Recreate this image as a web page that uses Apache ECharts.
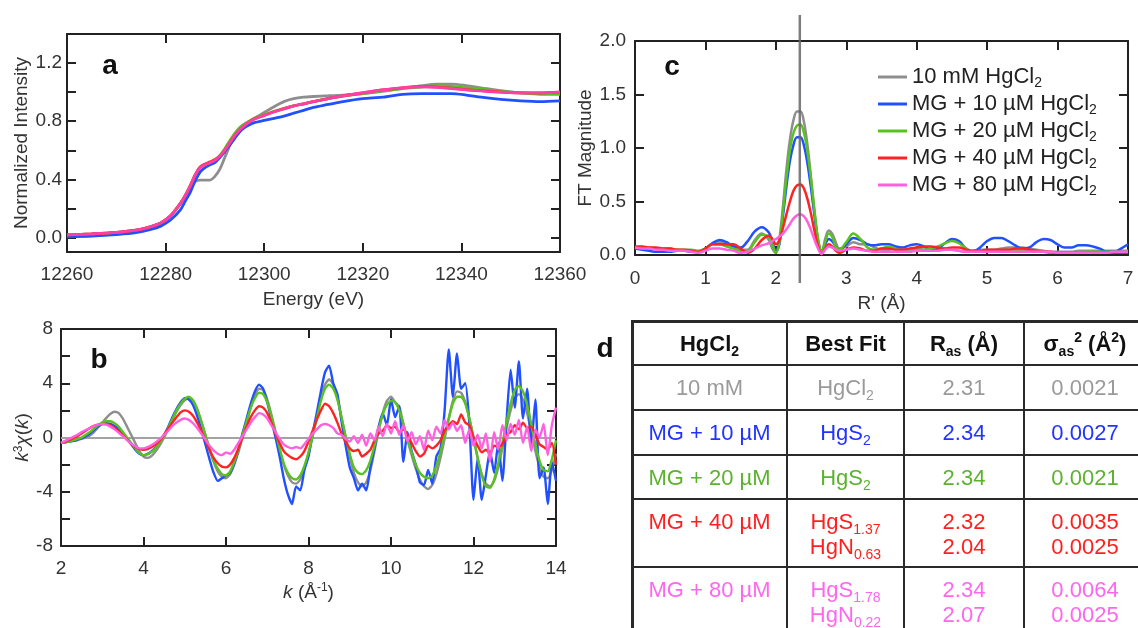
<!DOCTYPE html>
<html>
<head>
<meta charset="utf-8">
<script src="https://cdn.jsdelivr.net/npm/echarts@6.0.0/dist/echarts.min.js"></script>
<style>
html,body{margin:0;padding:0;background:#fff;width:1138px;height:628px;overflow:hidden;}
#chart{position:absolute;left:0;top:0;width:1138px;height:628px;}
#tbl{position:absolute;left:0;top:0;width:1138px;height:628px;pointer-events:none;font-family:'Liberation Sans',Arial,Helvetica,sans-serif;font-size:22px;}
.ln{position:absolute;background:#2a2a2a;}
.cell{position:absolute;display:flex;flex-direction:column;align-items:center;line-height:25px;white-space:nowrap;}
.cell.mid{justify-content:center;}
.cell.top{justify-content:flex-start;padding-top:10px;box-sizing:border-box;}
.cell.head{font-weight:bold;color:#111;}
sub{font-size:14px;line-height:0;vertical-align:-5px;}
sup{font-size:14px;line-height:0;vertical-align:9px;}
</style>
</head>
<body>
<div id="chart"></div>
<div id="tbl"></div>
<script>
// ---------------- Panel a : XANES ----------------
const A_ENERGY = [12260,12265,12270,12274,12277,12279,12281,12283,12284,12285,12286,12287,12288,12289,12290,12291,12292,12293,12294,12295,12296,12297,12298,12300,12302,12304,12306,12308,12310,12313,12316,12320,12324,12328,12332,12335,12338,12341,12344,12348,12352,12356,12360];
const A_GRAY  = [0.015,0.022,0.032,0.048,0.072,0.095,0.145,0.23,0.285,0.34,0.385,0.395,0.395,0.395,0.42,0.47,0.55,0.63,0.70,0.75,0.78,0.80,0.82,0.86,0.90,0.935,0.955,0.965,0.97,0.975,0.98,0.99,1.005,1.025,1.045,1.055,1.055,1.045,1.03,1.01,0.995,0.985,0.985];
const A_BLUE  = [0.005,0.01,0.02,0.033,0.055,0.078,0.12,0.19,0.25,0.31,0.39,0.45,0.48,0.50,0.515,0.55,0.59,0.635,0.68,0.725,0.755,0.775,0.79,0.805,0.82,0.835,0.855,0.875,0.895,0.915,0.935,0.955,0.965,0.985,0.99,0.99,0.99,0.98,0.965,0.95,0.94,0.935,0.94];
const A_GREEN = [0.018,0.025,0.035,0.05,0.075,0.10,0.15,0.235,0.29,0.355,0.43,0.48,0.50,0.515,0.535,0.565,0.61,0.665,0.715,0.755,0.78,0.80,0.82,0.845,0.868,0.888,0.905,0.92,0.935,0.955,0.972,0.99,1.01,1.025,1.035,1.045,1.04,1.03,1.02,1.005,0.995,0.99,0.99];
const A_RED   = [0.018,0.025,0.035,0.05,0.075,0.10,0.15,0.235,0.29,0.355,0.43,0.485,0.505,0.52,0.535,0.56,0.60,0.65,0.70,0.74,0.77,0.795,0.815,0.84,0.865,0.885,0.905,0.92,0.935,0.955,0.975,0.995,1.015,1.03,1.04,1.035,1.027,1.017,1.01,1.0,0.995,0.995,1.0];
const A_PINK  = [0.018,0.025,0.035,0.05,0.075,0.10,0.15,0.235,0.29,0.355,0.43,0.48,0.50,0.515,0.53,0.56,0.60,0.65,0.70,0.74,0.77,0.795,0.815,0.84,0.865,0.885,0.905,0.92,0.935,0.955,0.975,0.995,1.015,1.03,1.037,1.033,1.025,1.015,1.008,1.0,0.995,0.995,1.0];
const A_YTICKS = [0,0.2,0.4,0.6,0.8,1.0,1.2];
const A_YLABELS = [0,0.4,0.8,1.2];

// ---------------- Panel b : EXAFS k^3 chi(k) ----------------
const B_K = [2.0,2.1,2.2,2.3,2.4,2.5,2.6,2.7,2.8,2.9,
 3.0,3.1,3.2,3.3,3.4,3.5,3.6,3.7,3.8,3.9,
 4.0,4.1,4.2,4.3,4.4,4.5,4.6,4.7,4.8,4.9,
 5.0,5.1,5.2,5.3,5.4,5.5,5.6,5.7,5.8,5.9,
 6.0,6.1,6.2,6.3,6.4,6.5,6.6,6.7,6.8,6.9,
 7.0,7.1,7.2,7.3,7.4,7.5,7.6,7.7,7.8,7.9,
 8.0,8.1,8.2,8.3,8.4,8.5,8.6,8.7,8.8,8.9,
 9.0,9.1,9.2,9.3,9.4,9.5,9.6,9.7,9.8,9.9,
 10.0,10.1,10.2,10.3,10.4,10.5,10.6,10.7,10.8,10.9,
 11.0,11.1,11.2,11.3,11.4,11.5,11.6,11.7,11.8,11.9,
 12.0,12.1,12.2,12.3,12.4,12.5,12.6,12.7,12.8,12.9,
 13.0,13.1,13.2,13.3,13.4,13.5,13.6,13.7,13.8,13.9,
 14.0];
const B_GRAY = [-0.4,-0.35,-0.3,-0.25,-0.2,-0.1,0.0,0.15,0.4,0.75,
 1.1,1.45,1.75,1.9,1.8,1.4,0.8,0.2,-0.4,-1.0,
 -1.4,-1.5,-1.35,-1.0,-0.55,0.0,0.6,1.3,1.9,2.4,
 2.75,2.9,2.7,2.1,1.2,0.2,-0.9,-1.8,-2.5,-2.9,
 -3.0,-2.7,-2.0,-1.1,0.0,1.1,2.2,3.1,3.6,3.5,
 2.8,1.7,0.4,-0.9,-2.0,-2.8,-3.3,-3.4,-3.1,-2.3,
 -1.2,0.1,1.5,2.9,3.9,4.3,3.9,2.9,1.5,0.0,
 -1.4,-2.6,-3.3,-3.6,-3.3,-2.4,-1.0,0.5,1.8,2.7,
 3.0,2.6,2.3,1.0,-0.2,-1.3,-2.3,-3.1,-3.6,-3.8,
 -3.5,-2.7,-1.5,-0.1,1.4,2.7,3.4,3.3,2.6,1.4,
 0.0,-1.5,-2.7,-3.4,-3.6,-3.2,-2.2,-0.8,0.7,2.0,
 2.9,3.2,2.8,1.8,0.4,-1.0,-2.2,-2.9,-3.0,-2.4,
 -1.2];
const B_BLUE = [-0.4,-0.35,-0.3,-0.25,-0.15,-0.05,0.1,0.3,0.55,0.8,
 1.0,1.05,1.0,0.85,0.6,0.3,-0.1,-0.5,-0.9,-1.2,
 -1.3,-1.2,-1.0,-0.7,-0.3,0.2,0.8,1.5,2.1,2.6,
 2.9,2.8,2.4,1.6,0.6,-0.5,-1.6,-2.6,-3.2,-3.0,
 -2.8,-2.6,-1.9,-0.9,0.3,1.4,2.5,3.4,3.9,3.6,
 2.6,1.3,0.0,-1.4,-3.0,-4.2,-4.9,-3.6,-3.9,-2.4,
 -1.4,0.3,1.8,3.4,4.8,5.3,4.0,3.2,1.2,-0.6,
 -2.2,-3.0,-3.9,-3.4,-3.9,-2.2,-0.8,0.8,1.8,0.9,
 2.8,1.5,2.3,-1.8,0.4,-1.0,-2.0,-3.3,-3.5,-2.4,
 -3.4,-1.4,-0.8,2.0,6.5,3.0,6.2,3.6,4.0,1.0,
 -4.6,-1.5,-4.6,-2.8,-1.0,-2.6,-0.4,-3.2,1.2,5.0,
 2.2,5.6,1.4,3.6,-0.6,2.8,-3.0,-2.2,-4.9,-1.8,
 -3.2];
const B_GREEN = [-0.4,-0.35,-0.3,-0.2,-0.1,0.0,0.2,0.4,0.65,0.9,
 1.1,1.2,1.2,1.05,0.8,0.4,0.0,-0.4,-0.8,-1.15,
 -1.3,-1.25,-1.05,-0.75,-0.35,0.1,0.7,1.35,2.0,2.5,
 2.85,3.0,2.75,2.1,1.2,0.2,-0.8,-1.7,-2.3,-2.7,
 -2.8,-2.5,-1.8,-0.9,0.2,1.2,2.2,2.9,3.3,3.2,
 2.6,1.6,0.4,-0.8,-1.9,-2.6,-3.0,-3.1,-2.8,-2.1,
 -1.1,0.1,1.4,2.7,3.6,3.9,3.6,2.8,1.5,0.1,
 -1.2,-2.2,-2.6,-2.7,-2.4,-1.7,-0.6,0.6,1.7,2.4,
 2.7,2.6,2.0,1.0,-0.1,-1.1,-2.0,-2.6,-2.9,-3.0,
 -2.8,-2.1,-1.1,0.2,1.4,2.5,3.0,3.0,2.5,1.4,
 0.0,-1.5,-2.8,-3.6,-3.7,-3.1,-1.9,-0.4,1.1,2.5,
 3.5,3.8,3.4,2.4,1.0,-0.5,-1.7,-2.4,-2.5,-1.6,
 -0.2];
const B_RED = [-0.4,-0.3,-0.2,-0.05,0.1,0.3,0.5,0.7,0.85,0.95,
 1.0,1.0,0.9,0.7,0.45,0.15,-0.15,-0.45,-0.7,-0.85,
 -0.9,-0.85,-0.7,-0.5,-0.2,0.2,0.65,1.1,1.5,1.85,
 2.0,1.9,1.6,1.1,0.5,-0.2,-0.9,-1.5,-1.9,-2.15,
 -2.2,-2.0,-1.5,-0.8,0.0,0.8,1.5,2.0,2.3,2.2,
 1.8,1.1,0.3,-0.4,-1.0,-1.3,-1.5,-1.6,-1.4,-1.0,
 -0.3,0.5,1.3,2.0,2.5,2.3,1.8,1.1,0.3,-0.3,
 -0.8,-1.0,-0.9,-1.4,-1.2,-0.9,-0.2,0.3,0.5,0.9,
 0.7,0.8,0.4,0.6,0.2,-0.4,-1.0,-1.4,-1.2,-0.6,
 -0.8,-0.6,-0.2,0.5,0.9,1.2,1.0,1.7,1.1,0.9,
 0.0,-0.6,-1.1,-0.9,-1.2,-0.6,-0.7,-0.5,0.2,0.4,
 0.9,0.6,1.1,0.7,0.8,0.2,-0.5,-0.7,-0.9,-0.4,
 -2.0];
const B_PINK = [-0.4,-0.25,-0.1,0.05,0.2,0.4,0.55,0.7,0.85,0.95,
 1.0,0.95,0.8,0.6,0.35,0.1,-0.2,-0.45,-0.65,-0.8,
 -0.8,-0.7,-0.55,-0.35,-0.1,0.2,0.5,0.85,1.1,1.3,
 1.4,1.3,1.05,0.7,0.3,-0.15,-0.6,-0.95,-1.2,-1.3,
 -1.1,-1.2,-0.9,-0.4,0.1,0.6,1.1,1.5,1.8,1.7,
 1.4,0.9,0.4,-0.1,-0.5,-0.7,-0.8,-0.7,-0.8,-0.5,
 -0.1,0.3,0.6,0.9,1.0,0.9,0.7,0.3,0.2,-0.1,
 -0.3,0.1,-0.4,0.2,-0.6,0.3,-0.2,0.8,0.1,1.0,
 0.3,1.2,0.2,0.9,-0.3,0.4,-0.5,0.1,-0.9,0.5,
 -0.2,0.8,0.3,1.3,0.6,1.1,0.5,0.9,-0.4,0.6,
 -0.6,0.2,-0.8,0.3,-1.8,0.4,-0.9,0.9,-0.2,1.0,
 0.2,1.3,-0.4,0.8,-1.0,0.6,0.0,1.0,-1.3,0.9,
 2.2];
const B_YLABELS = [-8,-4,0,4,8];
const B_BASELINE = 0;

// ---------------- Panel c : Fourier transform ----------------
const C_R = [0,0.1,0.2,0.3,0.4,0.5,0.6,0.7,0.8,0.9,
 1.0,1.1,1.2,1.3,1.4,1.5,1.6,1.7,1.8,1.9,
 1.95,2.0,2.05,2.1,2.15,2.2,2.25,2.3,2.35,2.4,
 2.45,2.5,2.55,2.6,2.65,2.7,2.75,2.8,2.85,2.9,
 3.0,3.1,3.2,3.3,3.4,3.5,3.6,3.7,3.8,3.9,
 4.0,4.1,4.2,4.3,4.4,4.5,4.6,4.7,4.8,4.9,
 5.0,5.1,5.2,5.3,5.4,5.5,5.6,5.7,5.8,5.9,
 6.0,6.1,6.2,6.3,6.4,6.5,6.6,6.7,6.8,6.9,
 7.0];
const C_GRAY = [0.07,0.07,0.06,0.06,0.05,0.05,0.05,0.04,0.04,0.03,
 0.06,0.11,0.12,0.1,0.08,0.05,0.05,0.14,0.2,0.14,
 0.06,0.02,0.15,0.45,0.8,1.08,1.26,1.34,1.34,1.24,
 1.02,0.72,0.4,0.13,0.02,0.15,0.23,0.2,0.12,0.06,
 0.08,0.12,0.1,0.1,0.07,0.05,0.05,0.06,0.05,0.04,
 0.06,0.05,0.04,0.05,0.06,0.05,0.04,0.03,0.04,0.05,
 0.05,0.05,0.06,0.07,0.07,0.07,0.06,0.05,0.04,0.03,
 0.03,0.03,0.03,0.04,0.04,0.04,0.04,0.04,0.04,0.04,
 0.04];
const C_BLUE = [0.06,0.05,0.04,0.03,0.03,0.03,0.04,0.04,0.03,0.03,
 0.06,0.11,0.14,0.12,0.08,0.07,0.13,0.22,0.26,0.21,
 0.13,0.03,0.1,0.36,0.64,0.88,1.03,1.1,1.1,1.02,
 0.85,0.62,0.36,0.13,0.03,0.1,0.15,0.13,0.08,0.05,
 0.1,0.16,0.14,0.1,0.09,0.1,0.1,0.08,0.07,0.09,
 0.1,0.08,0.05,0.06,0.11,0.15,0.13,0.06,0.03,0.07,
 0.13,0.16,0.16,0.13,0.09,0.06,0.07,0.12,0.15,0.14,
 0.1,0.07,0.07,0.09,0.09,0.08,0.06,0.03,0.03,0.06,
 0.1];
const C_GREEN = [0.07,0.07,0.07,0.06,0.06,0.06,0.05,0.05,0.05,0.04,
 0.06,0.1,0.1,0.08,0.06,0.04,0.04,0.12,0.19,0.17,
 0.1,0.02,0.12,0.4,0.72,0.98,1.14,1.21,1.22,1.14,
 0.96,0.7,0.4,0.15,0.03,0.12,0.2,0.17,0.08,0.05,
 0.12,0.2,0.15,0.07,0.05,0.06,0.08,0.06,0.04,0.04,
 0.05,0.05,0.06,0.08,0.11,0.13,0.11,0.06,0.03,0.03,
 0.04,0.04,0.05,0.05,0.05,0.05,0.04,0.04,0.03,0.02,
 0.02,0.02,0.02,0.02,0.03,0.03,0.03,0.03,0.03,0.03,
 0.03];
const C_RED = [0.08,0.08,0.07,0.07,0.06,0.06,0.05,0.05,0.04,0.03,
 0.06,0.1,0.1,0.1,0.1,0.06,0.02,0.06,0.14,0.18,
 0.15,0.1,0.14,0.25,0.38,0.5,0.6,0.65,0.66,0.62,
 0.52,0.38,0.22,0.08,0.01,0.06,0.1,0.08,0.04,0.02,
 0.05,0.07,0.06,0.04,0.04,0.06,0.06,0.05,0.05,0.06,
 0.07,0.08,0.08,0.07,0.06,0.07,0.07,0.05,0.04,0.04,
 0.05,0.05,0.05,0.05,0.06,0.06,0.05,0.04,0.03,0.03,
 0.02,0.02,0.02,0.02,0.02,0.02,0.02,0.02,0.02,0.02,
 0.02];
const C_PINK = [0.07,0.06,0.06,0.05,0.05,0.04,0.04,0.04,0.03,0.02,
 0.04,0.06,0.06,0.05,0.04,0.02,0.03,0.06,0.09,0.11,
 0.13,0.15,0.17,0.2,0.24,0.29,0.34,0.37,0.38,0.36,
 0.31,0.23,0.14,0.06,0.01,0.05,0.08,0.07,0.05,0.04,
 0.05,0.06,0.05,0.04,0.03,0.03,0.03,0.03,0.03,0.03,
 0.04,0.04,0.04,0.04,0.05,0.05,0.04,0.03,0.03,0.03,
 0.03,0.03,0.03,0.03,0.03,0.03,0.03,0.03,0.03,0.03,
 0.02,0.02,0.02,0.02,0.02,0.02,0.02,0.02,0.03,0.03,
 0.03];
const C_MARKER_R = 2.34;

// ---------------- Legend / series names ----------------
const SERIES_NAMES = ['10 mM HgCl2','MG + 10 µM HgCl2','MG + 20 µM HgCl2','MG + 40 µM HgCl2','MG + 80 µM HgCl2'];

// ---------------- Panel d : table ----------------
const TABLE_HEAD = ['HgCl_{2}','Best Fit','R_{as} (Å)','σ_{as}^{2} (Å^{2})'];
const TABLE_SAMPLE = ['10 mM','MG + 10 µM','MG + 20 µM','MG + 40 µM','MG + 80 µM'];
const TABLE_FIT = [['HgCl_{2}'],['HgS_{2}'],['HgS_{2}'],['HgS_{1.37}','HgN_{0.63}'],['HgS_{1.78}','HgN_{0.22}']];
const TABLE_RAS = [['2.31'],['2.34'],['2.34'],['2.32','2.04'],['2.34','2.07']];
const TABLE_SIG = [['0.0021'],['0.0027'],['0.0021'],['0.0035','0.0025'],['0.0064','0.0025']];

// ---------------- styling ----------------
const FONT = "'Liberation Sans', Arial, Helvetica, sans-serif";
const COL_LINE = ['#8e8e8e','#2050ff','#58c21e','#ff2222','#ff60e0'];
const COL_A_PINK = '#ff3fa6';
const COL_TEXT = ['#9a9a9a','#2233ff','#5cb22e','#ff1f1f','#ff66ee'];
const AX = '#222';
const LBL = '#333';

function pairs(xs, ys){ return xs.map(function(x,i){ return [x, ys[i]]; }); }

const RICH = {
  i:{fontStyle:'italic',fontSize:19,fontFamily:FONT,color:LBL},
  sup:{fontSize:12,fontFamily:FONT,color:LBL,padding:[0,0,9,0]}
};

function axis(kind, grid, pos, o){
  const labelOn = (pos==='bottom' || pos==='left');
  const a = {
    type:'value', gridIndex:grid, position:pos, min:o.min, max:o.max,
    axisLine:{show:true,onZero:false,lineStyle:{color:AX,width:2}},
    axisTick:{show:true,inside:true,length:9,lineStyle:{color:AX,width:2}},
    splitLine:{show:false},
    axisLabel:{show:labelOn,color:LBL,fontSize:19,fontFamily:FONT,margin:o.margin||10,
      formatter:o.fmt || function(v){ return String(v); }},
    name: labelOn ? (o.name||'') : '',
    nameLocation:'middle', nameGap:o.nameGap||30,
    nameTextStyle:{color:LBL,fontSize:19,fontFamily:FONT,rich:RICH}
  };
  if (o.interval != null) a.interval = o.interval;
  if (o.tickValues) a.axisTick.customValues = o.tickValues;
  if (o.labelValues) a.axisLabel.customValues = o.labelValues;
  return a;
}

const fmt1 = function(v){ return v.toFixed(1); };

const xAxes = [
  axis('x',0,'bottom',{min:12260,max:12360,interval:20,margin:13,name:'Energy (eV)',nameGap:38}),
  axis('x',0,'top',{min:12260,max:12360,interval:20}),
  axis('x',1,'bottom',{min:2,max:14,interval:2,margin:13,name:'{i|k} (Å{sup|-1})',nameGap:36}),
  axis('x',1,'top',{min:2,max:14,interval:2}),
  axis('x',2,'bottom',{min:0,max:7,interval:1,margin:14,name:"R' (Å)",nameGap:39}),
  axis('x',2,'top',{min:0,max:7,interval:1}),
  {type:'value',gridIndex:3,min:0,max:7,show:false}
];
const yAxes = [
  axis('y',0,'left',{min:-0.1,max:1.4,tickValues:A_YTICKS,labelValues:A_YLABELS,fmt:fmt1,margin:5,name:'Normalized Intensity',nameGap:34}),
  axis('y',0,'right',{min:-0.1,max:1.4,tickValues:A_YTICKS}),
  axis('y',1,'left',{min:-8,max:8,interval:2,labelValues:B_YLABELS,margin:8,name:'{i|k}{sup|3}{i|χ}({i|k})',nameGap:25}),
  axis('y',1,'right',{min:-8,max:8,interval:2}),
  axis('y',2,'left',{min:0,max:2,interval:0.5,fmt:fmt1,margin:9,name:'FT Magnitude',nameGap:30}),
  axis('y',2,'right',{min:0,max:2,interval:0.5}),
  {type:'value',gridIndex:3,min:0,max:1,show:false}
];

function line(name, xi, yi, xs, ys, color, width, smooth, z){
  return {name:name,type:'line',xAxisIndex:xi,yAxisIndex:yi,data:pairs(xs,ys),
    showSymbol:false,symbol:'none',smooth:smooth,
    lineStyle:{color:color,width:width},itemStyle:{color:color},z:z,silent:true};
}

const series = [];
// panel c first (legend colours)
const C_SETS = [C_GRAY,C_BLUE,C_GREEN,C_RED,C_PINK];
C_SETS.forEach(function(ys,i){ series.push(line(SERIES_NAMES[i],4,4,C_R,ys,COL_LINE[i],2.5,0.35,3+i)); });
// panel a
const A_SETS = [A_GRAY,A_BLUE,A_GREEN,A_RED,A_PINK];
A_SETS.forEach(function(ys,i){ series.push(line(SERIES_NAMES[i],0,0,A_ENERGY,ys,i===4?COL_A_PINK:COL_LINE[i],2.8,0.3,3+i)); });
// panel b
const B_SETS = [B_GRAY,B_BLUE,B_GREEN,B_RED,B_PINK];
B_SETS.forEach(function(ys,i){
  const s = line(SERIES_NAMES[i],2,2,B_K,ys,COL_LINE[i],2.4,0.2,3+i);
  if (i===0) {
    s.markLine = {silent:true,symbol:['none','none'],label:{show:false},
      lineStyle:{color:'#a3a3a3',width:2,type:'solid'},data:[{yAxis:B_BASELINE}],z:1};
  }
  series.push(s);
});
// vertical marker in panel c
series.push({name:'marker',type:'line',xAxisIndex:6,yAxisIndex:6,
  data:[[C_MARKER_R,0],[C_MARKER_R,1]],showSymbol:false,symbol:'none',silent:true,
  lineStyle:{color:'#666',width:2.5,opacity:0.85},z:20});

const chart = echarts.init(document.getElementById('chart'), null, {renderer:'canvas'});
chart.setOption({
  animation:false,
  backgroundColor:'#fff',
  grid:[
    {left:67,top:34,width:493,height:218},
    {left:61,top:329,width:495,height:217},
    {left:635,top:41,width:493,height:214},
    {left:635,top:15,width:493,height:268}
  ],
  xAxis:xAxes,
  yAxis:yAxes,
  legend:{
    data:SERIES_NAMES, orient:'vertical', left:873, top:59,
    itemWidth:29, itemHeight:3, icon:'rect', itemGap:0.5, selectedMode:false,
    textStyle:{fontSize:22,color:'#222',fontFamily:FONT,lineHeight:26,
      rich:{sub:{fontSize:14,color:'#222',fontFamily:FONT,padding:[13,0,0,0]}}},
    formatter:function(n){ return n.replace(/2$/,'{sub|2}'); }
  },
  graphic:[
    {type:'text',x:110,y:66,style:{text:'a',align:'center',verticalAlign:'middle',font:'bold 28px '+FONT,fill:'#111'}},
    {type:'text',x:99,y:360,style:{text:'b',align:'center',verticalAlign:'middle',font:'bold 28px '+FONT,fill:'#111'}},
    {type:'text',x:672,y:67.5,style:{text:'c',align:'center',verticalAlign:'middle',font:'bold 28px '+FONT,fill:'#111'}},
    {type:'text',x:605,y:349,style:{text:'d',align:'center',verticalAlign:'middle',font:'bold 28px '+FONT,fill:'#111'}}
  ],
  series:series
});

// ---------------- table (panel d) ----------------
(function(){
  const host = document.getElementById('tbl');
  const COLX = [632,787,904,1024,1146];
  const ROWY = [321,365,410,455,499,567,640];
  function mk(s){ return s.replace(/_\{([^}]*)\}/g,'<sub>$1</sub>').replace(/\^\{([^}]*)\}/g,'<sup>$1</sup>'); }
  let html = '';
  COLX.slice(0,4).forEach(function(x,i){
    const w = i===0?3:2;
    html += '<div class="ln" style="left:'+(x-w/2)+'px;top:'+(ROWY[0]-1.5)+'px;width:'+w+'px;height:'+(ROWY[6]-ROWY[0])+'px"></div>';
  });
  ROWY.slice(0,6).forEach(function(y,i){
    const h = i===0?3:2;
    html += '<div class="ln" style="left:'+(COLX[0]-1.5)+'px;top:'+(y-h/2)+'px;width:'+(COLX[4]-COLX[0])+'px;height:'+h+'px"></div>';
  });
  function cell(r,c,lines,cls,color){
    const x=COLX[c], y=ROWY[r], w=COLX[c+1]-COLX[c], h=ROWY[r+1]-ROWY[r];
    html += '<div class="cell '+cls+'" style="left:'+x+'px;top:'+y+'px;width:'+w+'px;height:'+h+'px;color:'+color+'">'+
      lines.map(function(t){ return '<div>'+mk(t)+'</div>'; }).join('')+'</div>';
  }
  TABLE_HEAD.forEach(function(t,c){ cell(0,c,[t],'mid head','#111'); });
  TABLE_SAMPLE.forEach(function(s,r){
    const multi = TABLE_FIT[r].length>1;
    const cls = multi?'top':'mid';
    const col = COL_TEXT[r];
    cell(r+1,0,[s],cls,col);
    cell(r+1,1,TABLE_FIT[r],cls,col);
    cell(r+1,2,TABLE_RAS[r],cls,col);
    cell(r+1,3,TABLE_SIG[r],cls,col);
  });
  host.innerHTML = html;
})();
</script>
</body>
</html>
